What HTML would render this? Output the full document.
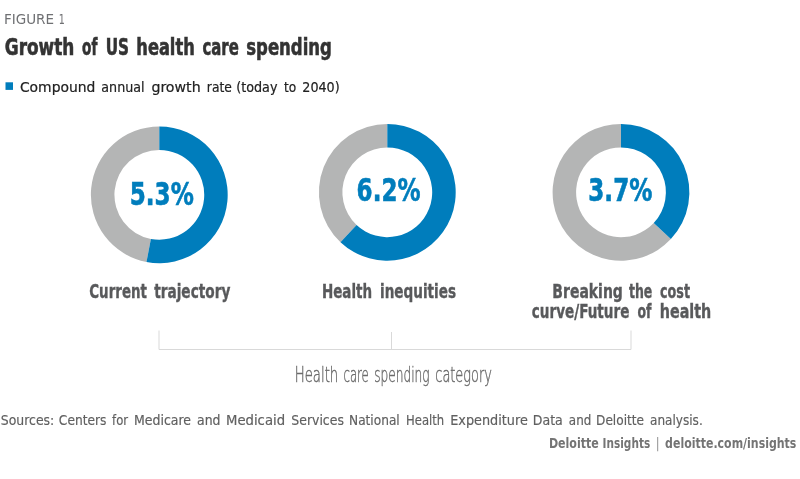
<!DOCTYPE html>
<html lang="en"><head><meta charset="utf-8"><title>Growth of US health care spending</title>
<style>
html,body{margin:0;padding:0;background:#fff;}
body{width:800px;height:479px;overflow:hidden;}
svg{display:block;}
text{font-family:"DejaVu Sans Condensed","DejaVu Sans","Liberation Sans",sans-serif;white-space:pre;}
text.b{font-weight:bold;}
text.l{font-family:"DejaVu Sans Light","DejaVu Sans Condensed","DejaVu Sans","Liberation Sans",sans-serif;}
</style></head><body>
<svg width="800" height="479" viewBox="0 0 800 479">
<rect width="800" height="479" fill="#ffffff"/>
<rect x="5.5" y="82.3" width="7.5" height="7.6" fill="#007dbc"/>
<path d="M146.48 261.99A68.4 68.4 0 0 1 159.30 126.40L159.30 149.90A44.9 44.9 0 0 0 150.89 238.90Z" fill="#b4b5b5"/>
<path d="M159.30 126.40A68.4 68.4 0 1 1 146.48 261.99L150.89 238.90A44.9 44.9 0 1 0 159.30 149.90Z" fill="#007dbc"/>
<path d="M340.48 242.16A68.4 68.4 0 0 1 387.30 123.90L387.30 147.40A44.9 44.9 0 0 0 356.56 225.03Z" fill="#b4b5b5"/>
<path d="M387.30 123.90A68.4 68.4 0 1 1 340.48 242.16L356.56 225.03A44.9 44.9 0 1 0 387.30 147.40Z" fill="#007dbc"/>
<path d="M670.86 239.12A68.4 68.4 0 1 1 621.00 123.90L621.00 147.40A44.9 44.9 0 1 0 653.73 223.04Z" fill="#b4b5b5"/>
<path d="M621.00 123.90A68.4 68.4 0 0 1 670.86 239.12L653.73 223.04A44.9 44.9 0 0 0 621.00 147.40Z" fill="#007dbc"/>
<path d="M159 330.5V349.5H631V330.5M391.5 332V349.5" fill="none" stroke="#d9d9d9" stroke-width="1"/>
<text class="r" y="23.8" font-size="14.1" fill="#6f7073"><tspan x="3.93" textLength="50.08" lengthAdjust="spacingAndGlyphs">FIGURE</tspan> <tspan x="58.75" textLength="6.05" lengthAdjust="spacingAndGlyphs">1</tspan></text>
<text class="b" y="54.5" font-size="23.3" fill="#333333" stroke="#333333" stroke-width="0.6"><tspan x="4.79" textLength="69.55" lengthAdjust="spacingAndGlyphs">Growth</tspan> <tspan x="82.10" textLength="15.22" lengthAdjust="spacingAndGlyphs">of</tspan> <tspan x="105.77" textLength="23.32" lengthAdjust="spacingAndGlyphs">US</tspan> <tspan x="136.33" textLength="58.39" lengthAdjust="spacingAndGlyphs">health</tspan> <tspan x="202.50" textLength="36.26" lengthAdjust="spacingAndGlyphs">care</tspan> <tspan x="246.31" textLength="85.58" lengthAdjust="spacingAndGlyphs">spending</tspan></text>
<text class="r" y="91.9" font-size="14.6" fill="#222222" stroke="#222222" stroke-width="0.2"><tspan x="19.90" textLength="75.56" lengthAdjust="spacingAndGlyphs">Compound</tspan> <tspan x="101.35" textLength="43.18" lengthAdjust="spacingAndGlyphs">annual</tspan> <tspan x="151.40" textLength="49.25" lengthAdjust="spacingAndGlyphs">growth</tspan> <tspan x="206.86" textLength="25.01" lengthAdjust="spacingAndGlyphs">rate</tspan> <tspan x="236.23" textLength="41.25" lengthAdjust="spacingAndGlyphs">(today</tspan> <tspan x="283.90" textLength="12.23" lengthAdjust="spacingAndGlyphs">to</tspan> <tspan x="302.30" textLength="37.39" lengthAdjust="spacingAndGlyphs">2040)</tspan></text>
<text class="b" y="205.45" font-size="32.6" fill="#007dbc" stroke="#007dbc" stroke-width="0.6"><tspan x="129.72" textLength="64.06" lengthAdjust="spacingAndGlyphs">5.3%</tspan></text>
<text class="b" y="201.45" font-size="32.6" fill="#007dbc" stroke="#007dbc" stroke-width="0.6"><tspan x="356.61" textLength="63.87" lengthAdjust="spacingAndGlyphs">6.2%</tspan></text>
<text class="b" y="201.45" font-size="32.6" fill="#007dbc" stroke="#007dbc" stroke-width="0.6"><tspan x="588.31" textLength="64.08" lengthAdjust="spacingAndGlyphs">3.7%</tspan></text>
<text class="b" y="298" font-size="19.3" fill="#58595b" stroke="#58595b" stroke-width="0.35"><tspan x="89.27" textLength="57.68" lengthAdjust="spacingAndGlyphs">Current</tspan> <tspan x="154.18" textLength="76.19" lengthAdjust="spacingAndGlyphs">trajectory</tspan></text>
<text class="b" y="298" font-size="19.3" fill="#58595b" stroke="#58595b" stroke-width="0.35"><tspan x="321.90" textLength="50.23" lengthAdjust="spacingAndGlyphs">Health</tspan> <tspan x="379.99" textLength="76.09" lengthAdjust="spacingAndGlyphs">inequities</tspan></text>
<text class="b" y="297.9" font-size="19.3" fill="#58595b" stroke="#58595b" stroke-width="0.35"><tspan x="552.37" textLength="70.50" lengthAdjust="spacingAndGlyphs">Breaking</tspan> <tspan x="628.97" textLength="23.40" lengthAdjust="spacingAndGlyphs">the</tspan> <tspan x="660.07" textLength="29.97" lengthAdjust="spacingAndGlyphs">cost</tspan></text>
<text class="b" y="317.6" font-size="19.3" fill="#58595b" stroke="#58595b" stroke-width="0.35"><tspan x="531.77" textLength="97.65" lengthAdjust="spacingAndGlyphs">curve/Future</tspan> <tspan x="637.47" textLength="14.02" lengthAdjust="spacingAndGlyphs">of</tspan> <tspan x="659.75" textLength="51.44" lengthAdjust="spacingAndGlyphs">health</tspan></text>
<text class="l" y="382.1" font-size="20.5" fill="#6c6c6c" stroke="#6c6c6c" stroke-width="0.45"><tspan x="294.73" textLength="43.53" lengthAdjust="spacingAndGlyphs">Health</tspan> <tspan x="343.45" textLength="25.37" lengthAdjust="spacingAndGlyphs">care</tspan> <tspan x="374.13" textLength="55.52" lengthAdjust="spacingAndGlyphs">spending</tspan> <tspan x="435.29" textLength="56.66" lengthAdjust="spacingAndGlyphs">category</tspan></text>
<text class="r" y="425.4" font-size="13.3" fill="#606060" stroke="#606060" stroke-width="0.15"><tspan x="0.82" textLength="53.42" lengthAdjust="spacingAndGlyphs">Sources:</tspan> <tspan x="58.83" textLength="47.59" lengthAdjust="spacingAndGlyphs">Centers</tspan> <tspan x="112.08" textLength="16.02" lengthAdjust="spacingAndGlyphs">for</tspan> <tspan x="134.03" textLength="57.03" lengthAdjust="spacingAndGlyphs">Medicare</tspan> <tspan x="197.07" textLength="23.47" lengthAdjust="spacingAndGlyphs">and</tspan> <tspan x="225.97" textLength="59.12" lengthAdjust="spacingAndGlyphs">Medicaid</tspan> <tspan x="291.32" textLength="52.59" lengthAdjust="spacingAndGlyphs">Services</tspan> <tspan x="349.06" textLength="50.70" lengthAdjust="spacingAndGlyphs">National</tspan> <tspan x="406.10" textLength="38.14" lengthAdjust="spacingAndGlyphs">Health</tspan> <tspan x="450.25" textLength="77.56" lengthAdjust="spacingAndGlyphs">Expenditure</tspan> <tspan x="532.77" textLength="30.00" lengthAdjust="spacingAndGlyphs">Data</tspan> <tspan x="568.83" textLength="22.44" lengthAdjust="spacingAndGlyphs">and</tspan> <tspan x="596.06" textLength="47.98" lengthAdjust="spacingAndGlyphs">Deloitte</tspan> <tspan x="650.08" textLength="52.65" lengthAdjust="spacingAndGlyphs">analysis.</tspan></text>
<text class="b" y="447.8" font-size="14.3" fill="#747474"><tspan x="548.89" textLength="49.97" lengthAdjust="spacingAndGlyphs">Deloitte</tspan> <tspan x="602.58" textLength="47.64" lengthAdjust="spacingAndGlyphs">Insights</tspan> <tspan x="656.47" textLength="2.51" lengthAdjust="spacingAndGlyphs">|</tspan> <tspan x="665.10" textLength="131.31" lengthAdjust="spacingAndGlyphs">deloitte.com/insights</tspan></text>
</svg>
</body></html>
